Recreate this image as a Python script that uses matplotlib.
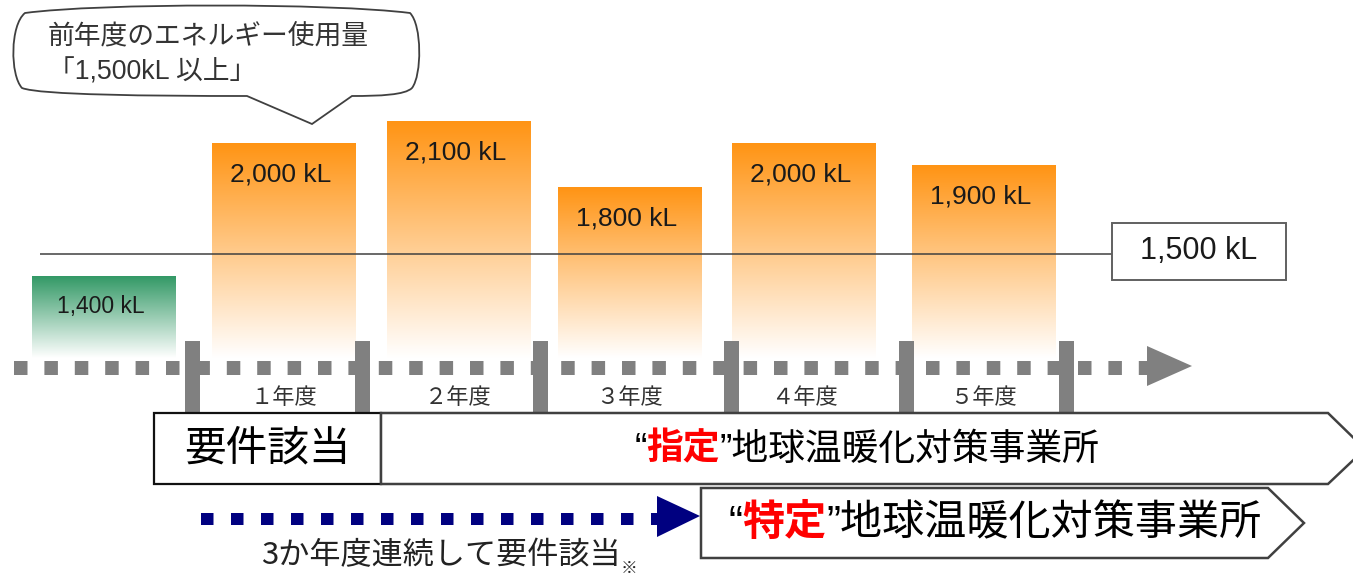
import matplotlib
matplotlib.use('Agg')
import matplotlib.pyplot as plt
import numpy as np
from matplotlib.patches import Rectangle, Polygon, PathPatch
from matplotlib.path import Path
from matplotlib.colors import LinearSegmentedColormap
from matplotlib.offsetbox import TextArea, HPacker, AnnotationBbox

# ---------------- data ----------------
prev_value = 1400
year_labels = ['１年度', '２年度', '３年度', '４年度', '５年度']
year_values = [2000, 2100, 1800, 2000, 1900]
threshold = 1500
unit = 'kL'

bubble_lines = ['前年度のエネルギー使用量', '「1,500kL 以上」']
req_text = '要件該当'
designated_parts = ['“', '指定', '”地球温暖化対策事業所']
specified_parts = ['“', '特定', '”地球温暖化対策事業所']
consec_text = '3か年度連続して要件該当'
note_mark = '※'

# ---------------- layout ----------------
W, H = 1353, 574
CJK = ['Noto Sans CJK JP', 'DejaVu Sans']
LAT_CJK = ['Liberation Sans', 'Noto Sans CJK JP', 'DejaVu Sans']
PX = 0.72  # points per pixel at dpi 100

fig = plt.figure(figsize=(W / 100, H / 100), dpi=100)
fig.patch.set_facecolor('white')
ax_bar = fig.add_axes([0, 0, 1, 1])
ax_px = fig.add_axes([0, 0, 1, 1])
for a in (ax_bar, ax_px):
    a.set_axis_off()
ax_bar.set_zorder(0)
ax_px.set_zorder(1)

KL_LO, KL_HI = 53.0, 2652.6
kl_per_px = (KL_HI - KL_LO) / H

bar_x = [104, 284, 458.5, 629.5, 804, 983.5]
bar_w = 144
base = 1030
values = [prev_value] + year_values
bar_colors = ['#339966'] + ['#FF9414'] * len(year_values)

grad = np.linspace(0, 1, 256).reshape(-1, 1)
for i, (x, v, c) in enumerate(zip(bar_x, values, bar_colors)):
    cmap = LinearSegmentedColormap.from_list(f'g{i}', ['white', c])
    ax_bar.imshow(grad, cmap=cmap, extent=[x - bar_w / 2, x + bar_w / 2, base, v],
                  origin='lower', aspect='auto', interpolation='bilinear', zorder=1)
    fs = 16.5 if i == 0 else 19
    ax_bar.annotate(f'{v:,} {unit}', (x, v), xytext=(-3 * PX, -30 * PX),
                    textcoords='offset points', ha='center', va='center',
                    fontsize=fs, family=LAT_CJK, color='#1a1a1a', zorder=4)

# threshold line and box
ax_bar.plot([40, 1112], [threshold, threshold], color='#404040', lw=1.1,
            solid_capstyle='butt', zorder=3)
hk = 57 * kl_per_px
ax_bar.add_patch(Rectangle((1112, threshold - hk / 2 + 3 * kl_per_px), 174, hk,
                           facecolor='white', edgecolor='#606060', lw=1.4, zorder=3))
ax_bar.text(1199, threshold + 3 * kl_per_px, f'{threshold:,} {unit}', ha='center',
            va='center', fontsize=22, family=LAT_CJK, color='#1a1a1a', zorder=4)

ax_bar.set_xlim(0, W)
ax_bar.set_ylim(KL_LO, KL_HI)

# ---------------- timeline ----------------
ax_px.set_xlim(0, W)
ax_px.set_ylim(H, 0)
tl_y = 368
ax_px.plot([14, 1147], [tl_y, tl_y], color='#808080', lw=14 * PX,
           dashes=(13.5 / 14, 16.9 / 14), dash_capstyle='butt')
tick_x = [192, 362, 540, 731, 906, 1066]
for tx in tick_x:
    ax_px.add_patch(Rectangle((tx - 7.5, 341), 15, 72, facecolor='#808080',
                              edgecolor='none'))
ax_px.add_patch(Polygon([(1147, 346), (1192, 366), (1147, 386)], closed=True,
                        facecolor='#808080', edgecolor='none'))

for x, lbl in zip(bar_x[1:], year_labels):
    ax_px.text(x, 398, lbl, ha='center', va='center', fontsize=16,
               family=CJK, color='#333333')

# ---------------- boxes ----------------
ax_px.add_patch(Rectangle((154, 413), 227, 71, facecolor='white',
                          edgecolor='#111111', lw=1.6))
ax_px.text(267, 449, req_text, ha='center', va='center', fontsize=30,
           family=CJK, color='black')

ax_px.add_patch(Polygon([(381, 413), (1328, 413), (1365, 449), (1328, 484), (381, 484)],
                        closed=True, facecolor='white', edgecolor='#404040', lw=1.8))
ax_px.add_patch(Polygon([(701, 488), (1268, 488), (1304, 523), (1268, 558), (701, 558)],
                        closed=True, facecolor='white', edgecolor='#404040', lw=1.8))


def packed_text(parts, fs, xy):
    boxes = [
        TextArea(parts[0], textprops=dict(fontsize=fs, family=LAT_CJK, color='black')),
        TextArea(parts[1], textprops=dict(fontsize=fs, family=CJK, color='#FF0000',
                                          fontweight='bold')),
        TextArea(parts[2], textprops=dict(fontsize=fs, family=LAT_CJK, color='black')),
    ]
    pack = HPacker(children=boxes, align='baseline', pad=0, sep=0)
    ab = AnnotationBbox(pack, xy, xycoords='data', frameon=False,
                        box_alignment=(0.5, 0.5), pad=0)
    ax_px.add_artist(ab)


packed_text(designated_parts, 26.5, (867, 449))
packed_text(specified_parts, 30.3, (995, 523))

# ---------------- navy arrow ----------------
ax_px.plot([201, 657], [519, 519], color='#000080', lw=12 * PX,
           dashes=(12.5 / 12, 17.5 / 12), dash_capstyle='butt')
ax_px.add_patch(Polygon([(657, 496), (700, 516), (657, 537)], closed=True,
                        facecolor='#000080', edgecolor='none'))
ax_px.text(261, 556, consec_text, ha='left', va='center', fontsize=22.4,
           family=CJK, color='#222222')
ax_px.text(621, 568, note_mark, ha='left', va='center', fontsize=12,
           family=CJK, color='#222222')

# ---------------- speech bubble ----------------
verts = [
    (247, 96), (312, 124), (352, 96),
    (380, 96), (405, 95), (412, 88),
    (422, 75), (422, 25), (410, 13),
    (330, 3), (100, 3), (25, 13),
    (10, 25), (10, 75), (22, 88),
    (40, 95), (150, 96), (247, 96),
    (247, 96),
]
codes = [Path.MOVETO, Path.LINETO, Path.LINETO] + [Path.CURVE4] * 15 + [Path.CLOSEPOLY]
ax_px.add_patch(PathPatch(Path(verts, codes), facecolor='white',
                          edgecolor='#404040', lw=1.3))
ax_px.text(48, 36, bubble_lines[0], ha='left', va='center', fontsize=19.3,
           family=CJK, color='#333333')
ax_px.text(48, 72, bubble_lines[1], ha='left', va='center', fontsize=19.3,
           family=LAT_CJK, color='#333333')

fig.savefig('out.png', dpi=100, facecolor='white')
